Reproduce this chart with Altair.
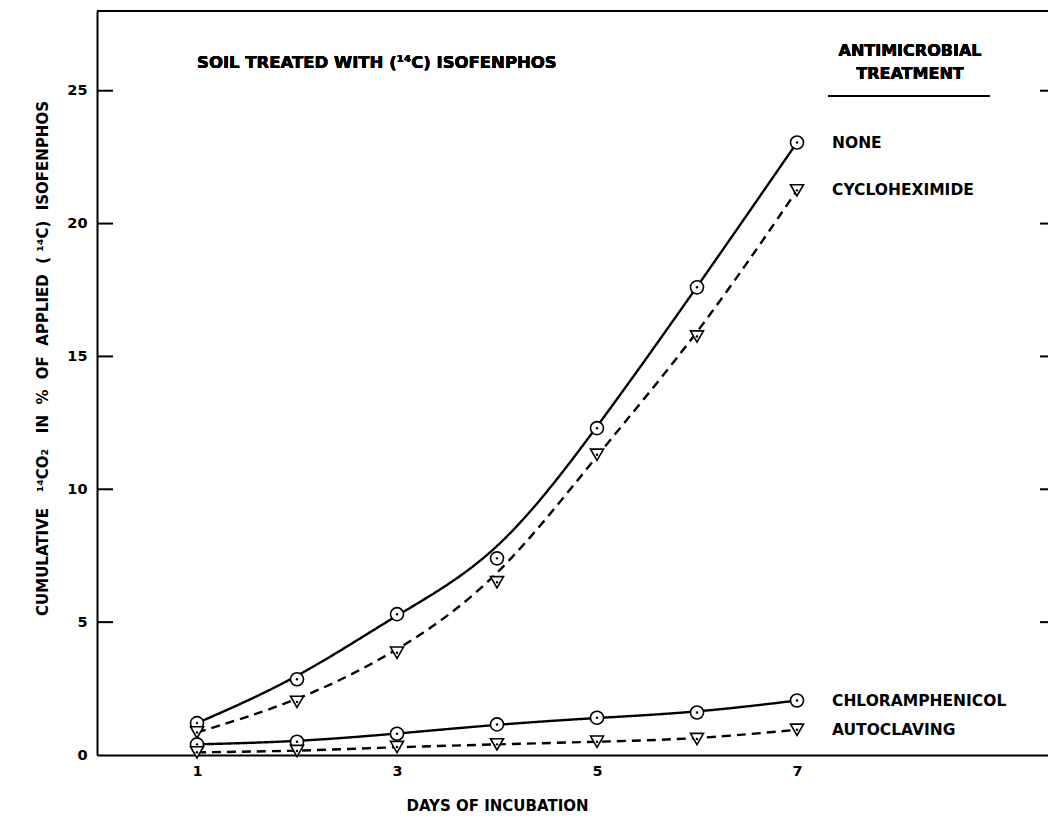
import altair as alt
import pandas as pd

days = [1, 2, 3, 4, 5, 6, 7]
none_vals = [1.2, 2.85, 5.3, 7.4, 12.3, 17.6, 23.05]
cyclo_vals = [0.85, 2.0, 3.85, 6.5, 11.3, 15.75, 21.25]
chloram_vals = [0.4, 0.5, 0.8, 1.15, 1.4, 1.6, 2.05]
autoclav_vals = [0.1, 0.15, 0.3, 0.4, 0.5, 0.6, 0.95]
treatments = ["NONE", "CYCLOHEXIMIDE", "CHLORAMPHENICOL", "AUTOCLAVING"]
marker_kind = ["circle", "triangle", "circle", "triangle"]
line_kind = ["solid", "dashed", "solid", "dashed"]
y_ticks = [0, 5, 10, 15, 20, 25]
x_ticks = [1, 3, 5, 7]

FONT = "DejaVu Sans"
W, H = 951, 744
XMAX, YMAX = 9.51, 28
NB = "\u00a0"

rows = []
for name, vals, mk, lk in zip(treatments, [none_vals, cyclo_vals, chloram_vals, autoclav_vals], marker_kind, line_kind):
    for d, v in zip(days, vals):
        rows.append({"day": d, "value": v, "treatment": name, "marker": mk, "style": lk})
df = pd.DataFrame(rows)
last = df[df["day"] == days[-1]]

xs = alt.Scale(domain=[0, XMAX], nice=False, zero=False)
ys = alt.Scale(domain=[0, YMAX], nice=False, zero=False)

ytitle = ("CUMULATIVE" + NB * 3 + "¹⁴CO₂" + NB * 3 + "IN" + NB * 2 + "%" + NB * 2 + "OF" + NB * 2
          + "APPLIED" + NB * 2 + "(" + NB + "¹⁴C)" + NB * 2 + "ISOFENPHOS")

xaxis = alt.Axis(values=x_ticks, format="d", ticks=False, grid=False, domainWidth=2, domainColor="black",
                 labelFont=FONT, labelFontSize=14.5, labelFontWeight="bold", labelColor="black",
                 labelPadding=9, title="DAYS OF INCUBATION", titleFont=FONT, titleFontSize=15,
                 titleFontWeight="bold", titleColor="black", titleX=400, titleY=55,
                 titleAlign="center", titleBaseline="alphabetic")
yaxis = alt.Axis(values=y_ticks, ticks=False, grid=False, domainWidth=2, domainColor="black",
                 labelFont=FONT, labelFontSize=14.5, labelFontWeight="bold", labelColor="black",
                 labelPadding=10, title=ytitle,
                 titleFont=FONT, titleFontSize=15, titleFontWeight="bold", titleColor="black",
                 titleX=-55, titleY=347, titleAngle=270, titleAlign="center", titleBaseline="middle")

base = alt.Chart(df)

lines = base.mark_line(color="black", strokeWidth=2.4, interpolate="basis").encode(
    x=alt.X("day:Q", scale=xs, axis=xaxis),
    y=alt.Y("value:Q", scale=ys, axis=yaxis),
    detail="treatment:N",
    strokeDash=alt.StrokeDash("style:N", scale=alt.Scale(domain=["solid", "dashed"], range=[[1, 0], [9, 6]]), legend=None),
)

pts = base.mark_point(filled=True, fill="white", stroke="black", strokeWidth=1.6, opacity=1, size=170).encode(
    x=alt.X("day:Q", scale=xs),
    y=alt.Y("value:Q", scale=ys),
    shape=alt.Shape("marker:N", scale=alt.Scale(domain=["circle", "triangle"], range=["circle", "triangle-down"]), legend=None),
)

dots = base.mark_point(filled=True, color="black", size=6, opacity=1, shape="circle").encode(
    x=alt.X("day:Q", scale=xs),
    y=alt.Y("value:Q", scale=ys),
)

labels = alt.Chart(last).mark_text(align="left", baseline="middle", dx=35, font=FONT, fontSize=15.5,
                                   fontWeight="bold", color="black").encode(
    x=alt.X("day:Q", scale=xs),
    y=alt.Y("value:Q", scale=ys),
    text="treatment:N",
)

tick_df = pd.DataFrame({"t": y_ticks[1:]})
left_ticks = alt.Chart(tick_df).mark_rule(color="black", strokeWidth=2).encode(
    y=alt.Y("t:Q", scale=ys), x=alt.value(0), x2=alt.value(16))
right_ticks = alt.Chart(tick_df).mark_rule(color="black", strokeWidth=2).encode(
    y=alt.Y("t:Q", scale=ys), x=alt.value(W - 8), x2=alt.value(W))
top_line = alt.Chart(tick_df).mark_rule(color="black", strokeWidth=2).encode(
    y=alt.value(0), x=alt.value(0), x2=alt.value(W))

txt = dict(font=FONT, fontWeight="bold", color="black")
title = alt.Chart(tick_df).mark_text(align="left", baseline="alphabetic", fontSize=16.5, **txt).encode(
    x=alt.datum(1.0), y=alt.datum(25.86), text=alt.value("SOIL TREATED WITH (¹⁴C) ISOFENPHOS"))
hdr1 = alt.Chart(tick_df).mark_text(align="center", baseline="alphabetic", fontSize=16, **txt).encode(
    x=alt.datum(8.13), y=alt.datum(26.3), text=alt.value("ANTIMICROBIAL"))
hdr2 = alt.Chart(tick_df).mark_text(align="center", baseline="alphabetic", fontSize=16, **txt).encode(
    x=alt.datum(8.13), y=alt.datum(25.45), text=alt.value("TREATMENT"))
underline = alt.Chart(tick_df).mark_rule(color="black", strokeWidth=2).encode(
    x=alt.datum(7.31), x2=alt.datum(8.93), y=alt.datum(24.8))

chart = alt.layer(lines, pts, dots, labels, left_ticks, right_ticks, top_line, title, hdr1, hdr2, underline).properties(
    width=W, height=H, autosize="none",
    padding={"left": 89, "top": 3, "right": 0, "bottom": 61},
).configure_view(stroke=None)

chart.save("out.html", embed_options={"renderer": "svg", "actions": False})
